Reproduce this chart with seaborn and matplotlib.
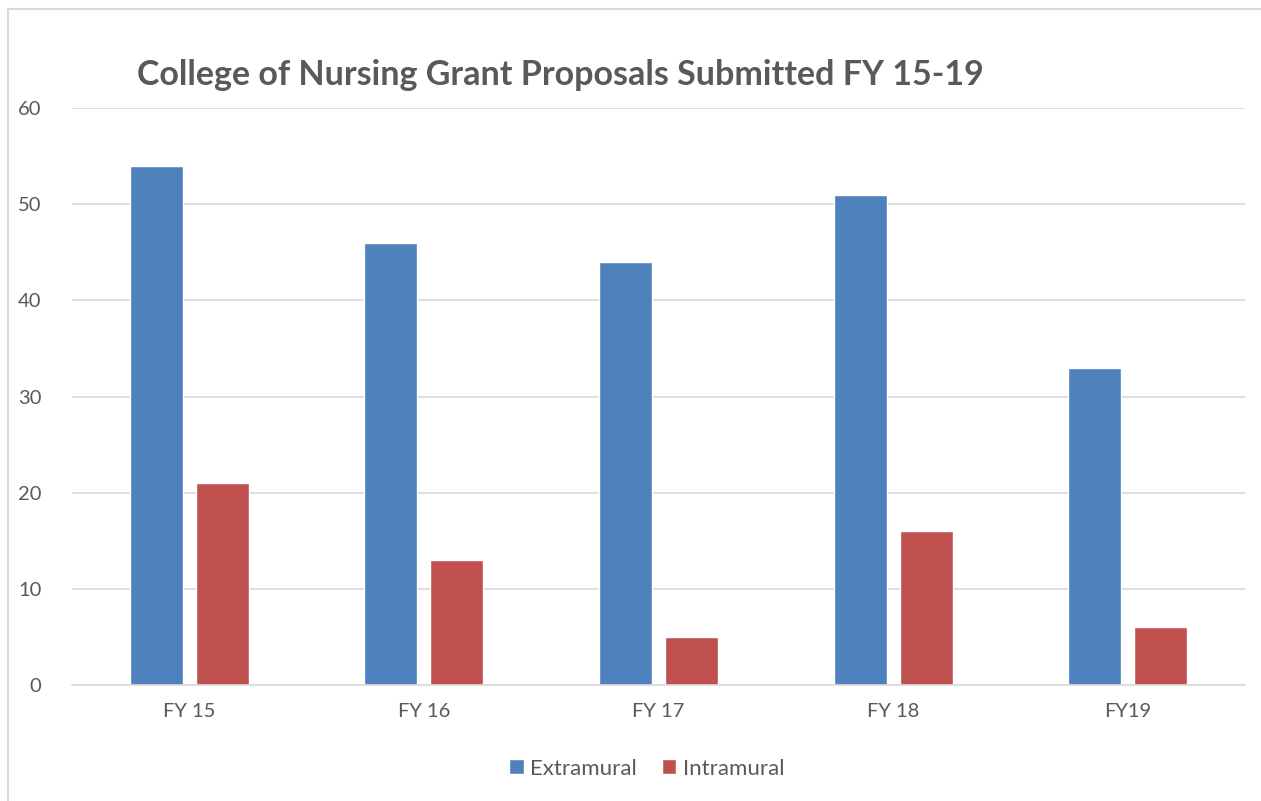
import matplotlib.pyplot as plt
import seaborn as sns
import pandas as pd
from matplotlib.lines import Line2D

years = ['FY 15', 'FY 16', 'FY 17', 'FY 18', 'FY19']
extramural = [54, 46, 44, 51, 33]
intramural = [21, 13, 5, 16, 6]
series = ['Extramural', 'Intramural']
colors = ['#4F81BD', '#C0504D']

df = pd.DataFrame({
    'year': years * 2,
    'count': extramural + intramural,
    'type': [series[0]] * len(years) + [series[1]] * len(years),
})

sns.set_style('white')
plt.rcParams['font.family'] = ['Lato', 'DejaVu Sans']
gray = '#595959'

fig = plt.figure(figsize=(12.61, 8.01), dpi=100)
ax = fig.add_axes([72 / 1261, 1 - 685 / 801, (1245 - 72) / 1261, (685 - 108) / 801])

sns.barplot(data=df, x='year', y='count', hue='type', order=years,
            hue_order=series, palette=colors, width=0.563, gap=0.197,
            saturation=1, ax=ax, legend=True)

ax.set_ylim(0, 60)
ax.set_xlim(-0.5, 4.5)
ax.set_yticks(range(0, 61, 10))
ax.yaxis.grid(True, color='#D9D9D9', linewidth=1.2)
ax.set_axisbelow(True)
for side in ['top', 'right', 'left']:
    ax.spines[side].set_visible(False)
ax.spines['bottom'].set_color('#D9D9D9')
ax.spines['bottom'].set_linewidth(1.2)
ax.tick_params(axis='both', length=0, labelsize=14.5, labelcolor=gray)
ax.tick_params(axis='y', pad=22)
ax.tick_params(axis='x', pad=13)
ax.set_xlabel('')
ax.set_ylabel('')

ax.legend(loc='center', bbox_to_anchor=(0.49, -0.145), ncol=2, frameon=False,
          fontsize=16, labelcolor=gray, handlelength=0.65, handleheight=0.65,
          handletextpad=0.3, columnspacing=1.1)

fig.text(137 / 1261, 1 - 75 / 801, 'College of Nursing Grant Proposals Submitted FY 15-19',
         fontsize=24.5, fontweight='bold', color=gray, va='center', ha='left')

# thin frame like the chart area border (left and top only visible)
fig.add_artist(Line2D([8 / 1261, 8 / 1261], [0, 1 - 9 / 801], color='#D9D9D9', linewidth=1.5))
fig.add_artist(Line2D([8 / 1261, 1], [1 - 9 / 801, 1 - 9 / 801], color='#D9D9D9', linewidth=1.5))

fig.savefig('out.png', dpi=100)
